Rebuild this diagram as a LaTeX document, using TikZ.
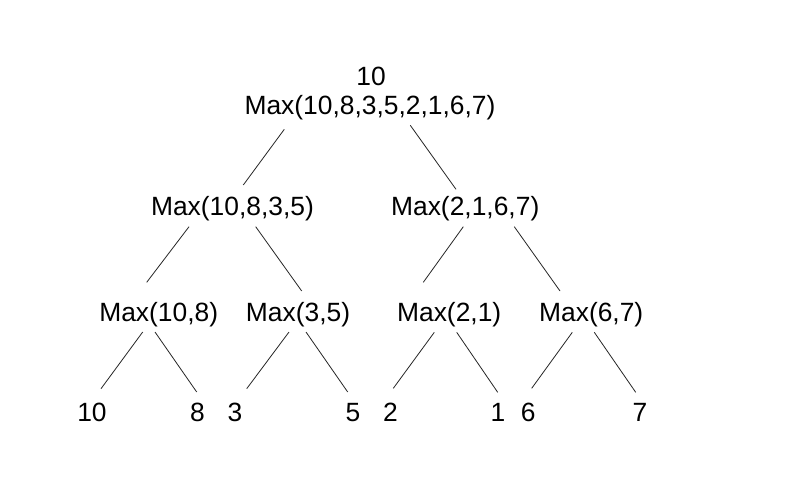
\documentclass[tikz,border=0pt]{standalone}
\usepackage{fontspec}
\setmainfont{Liberation Sans}
\tikzset{
  lbl/.style={inner sep=0pt, anchor=base, font=\fontsize{26.4}{30}\selectfont},
  edge/.style={line width=0.8pt, draw=black!85},
}
\begin{document}
\begin{tikzpicture}[x=1pt,y=-1pt]
\useasboundingbox[fill=white] (0,0) rectangle (794,483);
% internal nodes
\node[lbl] (val) at (371,85) {10};
\node[lbl] (root) at (370,114) {Max(10,8,3,5,2,1,6,7)};
\node[lbl] (L) at (232.5,215) {Max(10,8,3,5)};
\node[lbl] (R) at (465.2,215) {Max(2,1,6,7)};
\node[lbl] (LL) at (158.7,321.7) {Max(10,8)};
\node[lbl] (LR) at (298,321.7) {Max(3,5)};
\node[lbl] (RL) at (449.2,321.7) {Max(2,1)};
\node[lbl] (RR) at (591.2,321.7) {Max(6,7)};
% leaves
\node[lbl] (a) at (92,421) {10};
\node[lbl] (b) at (197.5,421) {8};
\node[lbl] (c) at (235,421) {3};
\node[lbl] (d) at (353,421) {5};
\node[lbl] (e) at (390.5,421) {2};
\node[lbl] (f) at (498,421) {1};
\node[lbl] (g) at (528.3,421) {6};
\node[lbl] (h) at (640,421) {7};
% edges
\draw[edge] ([shift={(-85.7,15.3)}]root.base) -- ([shift={(10.8,-30)}]L.base);
\draw[edge] ([shift={(40.3,11.3)}]root.base) -- ([shift={(-9.2,-25.7)}]R.base);
\draw[edge] ([shift={(-43.5,11.7)}]L.base) -- ([shift={(-12,-39.4)}]LL.base);
\draw[edge] ([shift={(23.2,11.7)}]L.base) -- ([shift={(3.7,-30.7)}]LR.base);
\draw[edge] ([shift={(-1.9,11.7)}]R.base) -- ([shift={(-25.9,-39.4)}]RL.base);
\draw[edge] ([shift={(49.1,11.7)}]R.base) -- ([shift={(-31.2,-30.7)}]RR.base);
\draw[edge] ([shift={(-16,10.3)}]LL.base) -- ([shift={(9,-32.3)}]a.base);
\draw[edge] ([shift={(-3.7,10.3)}]LL.base) -- ([shift={(-0.8,-29)}]b.base);
\draw[edge] ([shift={(-9,10.3)}]LR.base) -- ([shift={(11.7,-32.3)}]c.base);
\draw[edge] ([shift={(8,10.3)}]LR.base) -- ([shift={(-5.3,-29)}]d.base);
\draw[edge] ([shift={(-14.9,10.6)}]RL.base) -- ([shift={(2.8,-32.7)}]e.base);
\draw[edge] ([shift={(7.5,10.6)}]RL.base) -- ([shift={(-0.3,-28.7)}]f.base);
\draw[edge] ([shift={(-18.9,10.6)}]RR.base) -- ([shift={(3.4,-32.7)}]g.base);
\draw[edge] ([shift={(3.1,10.6)}]RR.base) -- ([shift={(-4.3,-28.7)}]h.base);
\end{tikzpicture}
\end{document}
